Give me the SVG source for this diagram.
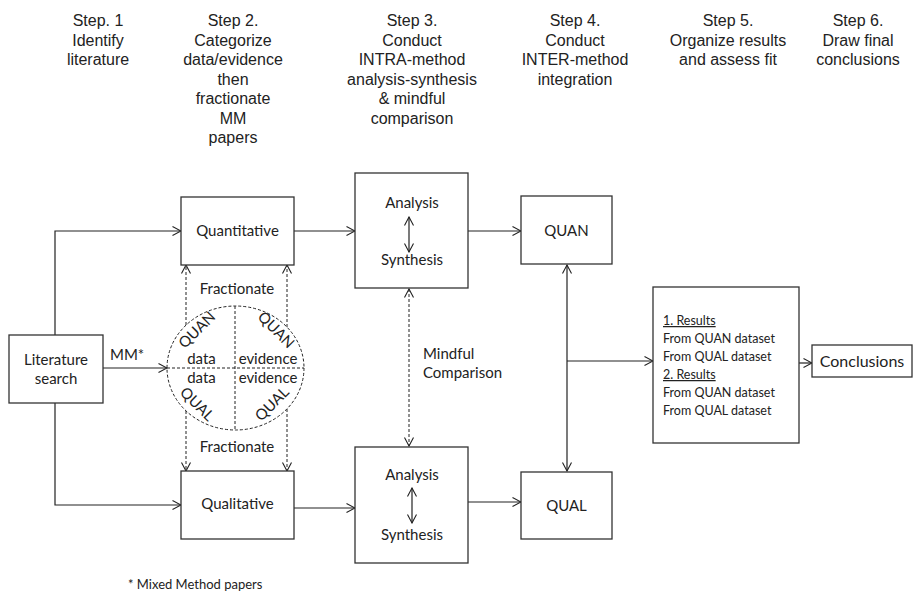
<svg xmlns="http://www.w3.org/2000/svg" width="914" height="592" viewBox="0 0 914 592">
<defs>
<marker id="arr" viewBox="0 0 10 10" refX="9" refY="5" markerWidth="10" markerHeight="10" markerUnits="userSpaceOnUse" orient="auto-start-reverse">
<path d="M0.5,0.5 L9,5 L0.5,9.5" fill="none" stroke="#222" stroke-width="1.1"/>
</marker>
</defs>
<style>
.hd{font-family:"Liberation Sans",Arial,sans-serif;font-size:16px;fill:#222;text-anchor:middle}
.t{font-family:Lato,"Noto Sans",sans-serif;font-size:15px;fill:#222;text-anchor:middle}
.s{font-family:Lato,"Noto Sans",sans-serif;font-size:12.5px;fill:#222}
.box{fill:#fff;stroke:#333;stroke-width:1.3}
.ln{fill:none;stroke:#222;stroke-width:1.2}
.dl{fill:none;stroke:#222;stroke-width:1;stroke-dasharray:3,2}
</style>
<g id="headers">
<text class="hd" x="98" y="26">Step. 1</text>
<text class="hd" x="98" y="45.5">Identify</text>
<text class="hd" x="98" y="65">literature</text>
<text class="hd" x="233" y="26">Step 2.</text>
<text class="hd" x="233" y="45.5">Categorize</text>
<text class="hd" x="233" y="65">data/evidence</text>
<text class="hd" x="233" y="84.5">then</text>
<text class="hd" x="233" y="104">fractionate</text>
<text class="hd" x="233" y="123.5">MM</text>
<text class="hd" x="233" y="143">papers</text>
<text class="hd" x="412" y="26">Step 3.</text>
<text class="hd" x="412" y="45.5">Conduct</text>
<text class="hd" x="412" y="65">INTRA-method</text>
<text class="hd" x="412" y="84.5">analysis-synthesis</text>
<text class="hd" x="412" y="104">&amp; mindful</text>
<text class="hd" x="412" y="123.5">comparison</text>
<text class="hd" x="575" y="26">Step 4.</text>
<text class="hd" x="575" y="45.5">Conduct</text>
<text class="hd" x="575" y="65">INTER-method</text>
<text class="hd" x="575" y="84.5">integration</text>
<text class="hd" x="728" y="26">Step 5.</text>
<text class="hd" x="728" y="45.5">Organize results</text>
<text class="hd" x="728" y="65">and assess fit</text>
<text class="hd" x="858" y="26">Step 6.</text>
<text class="hd" x="858" y="45.5">Draw final</text>
<text class="hd" x="858" y="65">conclusions</text>
</g>
<g id="connectors">
<polyline class="ln" points="55,335 55,231 181,231" marker-end="url(#arr)"/>
<polyline class="ln" points="55,403 55,505 181,505" marker-end="url(#arr)"/>
<line class="ln" x1="103" y1="368" x2="167" y2="368" marker-end="url(#arr)"/>
<line class="dl" x1="186" y1="325" x2="186" y2="265" marker-end="url(#arr)"/>
<line class="dl" x1="287" y1="327" x2="287" y2="265" marker-end="url(#arr)"/>
<line class="dl" x1="186" y1="411" x2="186" y2="471" marker-end="url(#arr)"/>
<line class="dl" x1="287" y1="409" x2="287" y2="471" marker-end="url(#arr)"/>
<line class="ln" x1="294" y1="231" x2="355" y2="231" marker-end="url(#arr)"/>
<line class="ln" x1="468" y1="231" x2="521" y2="231" marker-end="url(#arr)"/>
<line class="ln" x1="294" y1="508" x2="355" y2="508" marker-end="url(#arr)"/>
<line class="ln" x1="468" y1="502" x2="521" y2="502" marker-end="url(#arr)"/>
<line class="dl" x1="409" y1="289" x2="409" y2="446" marker-start="url(#arr)" marker-end="url(#arr)"/>
<line class="ln" x1="567" y1="265" x2="567" y2="471" marker-start="url(#arr)" marker-end="url(#arr)"/>
<line class="ln" x1="567" y1="361" x2="653" y2="361" marker-end="url(#arr)"/>
<line class="ln" x1="799" y1="363" x2="812" y2="363" marker-end="url(#arr)"/>
<text class="t" x="110" y="360" style="text-anchor:start">MM*</text>
<text class="t" x="237" y="294">Fractionate</text>
<text class="t" x="237" y="452">Fractionate</text>
<text class="t" x="423" y="359" style="text-anchor:start">Mindful</text>
<text class="t" x="423" y="378" style="text-anchor:start">Comparison</text>
</g>
<g id="lit">
<rect class="box" x="9" y="335" width="94" height="68"/>
<text class="t" x="56" y="365">Literature</text>
<text class="t" x="56" y="384">search</text>
</g>
<g id="mmcircle">
<ellipse cx="235.5" cy="368" rx="68.5" ry="62" class="dl"/>
<line class="dl" x1="235" y1="306" x2="235" y2="430"/>
<line class="dl" x1="167" y1="368" x2="304" y2="368"/>
<text class="t" x="201.5" y="364">data</text>
<text class="t" x="268" y="364">evidence</text>
<text class="t" x="201.5" y="382.5">data</text>
<text class="t" x="268" y="382.5">evidence</text>
<text class="t" transform="translate(197,330) rotate(-45)" y="5">QUAN</text>
<text class="t" transform="translate(276,330) rotate(45)" y="5">QUAN</text>
<text class="t" transform="translate(197,404) rotate(45)" y="5">QUAL</text>
<text class="t" transform="translate(272,404) rotate(-45)" y="5">QUAL</text>
</g>
<g id="quant">
<rect class="box" x="181" y="197" width="113" height="68"/>
<text class="t" x="237.5" y="236">Quantitative</text>
</g>
<g id="qual">
<rect class="box" x="181" y="471" width="113" height="68"/>
<text class="t" x="237.5" y="509">Qualitative</text>
</g>
<g id="anaTop">
<rect class="box" x="355" y="173" width="113" height="115"/>
<text class="t" x="412" y="208">Analysis</text>
<text class="t" x="412" y="265">Synthesis</text>
<line class="ln" x1="409" y1="217" x2="409" y2="252" marker-start="url(#arr)" marker-end="url(#arr)"/>
</g>
<g id="anaBot">
<rect class="box" x="355" y="447" width="113" height="116"/>
<text class="t" x="412" y="480">Analysis</text>
<text class="t" x="412" y="540">Synthesis</text>
<line class="ln" x1="412" y1="488" x2="412" y2="523" marker-start="url(#arr)" marker-end="url(#arr)"/>
</g>
<g id="quan">
<rect class="box" x="521" y="196" width="91" height="68"/>
<text class="t" x="566.5" y="236">QUAN</text>
</g>
<g id="qualR">
<rect class="box" x="521" y="472" width="91" height="67"/>
<text class="t" x="566.5" y="511">QUAL</text>
</g>
<g id="results">
<rect class="box" x="653" y="287" width="146" height="156"/>
<text class="s" x="663" y="325" text-decoration="underline">1. Results</text>
<text class="s" x="663" y="343">From QUAN dataset</text>
<text class="s" x="663" y="361">From QUAL dataset</text>
<text class="s" x="663" y="379" text-decoration="underline">2. Results</text>
<text class="s" x="663" y="397">From QUAN dataset</text>
<text class="s" x="663" y="415">From QUAL dataset</text>
</g>
<g id="conclusions">
<rect class="box" x="812" y="345" width="100" height="32"/>
<text class="t" x="862" y="367" style="font-size:16px">Conclusions</text>
</g>
<g id="footnote">
<text class="s" x="128" y="589" style="font-size:13px">* Mixed Method papers</text>
</g>
</svg>
